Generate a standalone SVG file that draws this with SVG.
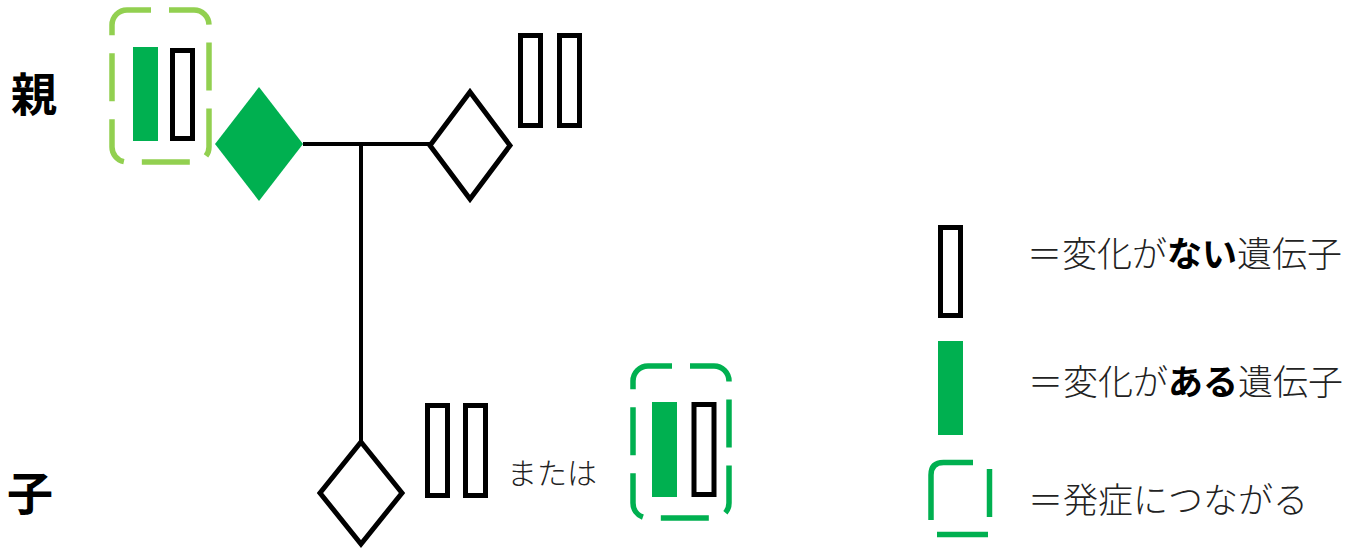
<svg xmlns="http://www.w3.org/2000/svg" width="1348" height="548" viewBox="0 0 1348 548">
<style>
.bg{fill:#fff}
.gene{fill:#fff;stroke:#000;stroke-width:5}
.mut{fill:#00B050}
.dia{fill:#fff;stroke:#000;stroke-width:5}
.diaf{fill:#00B050}
.link{stroke:#000;stroke-width:4;fill:none}
.box{fill:none;stroke-width:5.5;stroke-dasharray:48 18;stroke-dashoffset:24}
.lt{stroke:#92D050}
.dk{stroke:#00B050}
.big{font-family:"Noto Sans CJK JP","Noto Sans",sans-serif;font-weight:bold;font-size:46px;fill:#000}
.lbl{font-family:"Noto Sans CJK JP","Noto Sans",sans-serif;font-weight:300;fill:#222}
.lbl tspan.b{font-weight:bold;fill:#000}
</style>
<rect class="bg" x="0" y="0" width="1348" height="548"/>

<g id="connectors">
<line class="link" x1="303" y1="144" x2="431" y2="144"/>
<line class="link" x1="361" y1="144" x2="361" y2="443"/>
</g>

<g id="label-parent"><text class="big" x="11" y="111">親</text></g>
<g id="label-child"><text class="big" x="7" y="510">子</text></g>

<g id="parent-mother">
<rect class="box lt" x="112" y="10" width="97" height="152" rx="15"/>
<rect class="mut" x="133" y="47" width="25" height="94"/>
<rect class="gene" x="172.5" y="50.5" width="20" height="88"/>
<polygon class="diaf" points="259,87 303,144 259,201 215,144"/>
</g>

<g id="parent-father">
<polygon class="dia" points="470,92 510,145.5 470,199 430,145.5"/>
<rect class="gene" x="520.5" y="35.5" width="20" height="90"/>
<rect class="gene" x="559.5" y="35.5" width="20" height="90"/>
</g>

<g id="child">
<polygon class="dia" points="361,442 402,493 361,544 320,493"/>
<rect class="gene" x="427.5" y="405.5" width="20" height="90"/>
<rect class="gene" x="465.5" y="405.5" width="20" height="90"/>
<text class="lbl" x="507" y="484" font-size="30">または</text>
</g>

<g id="child-alt">
<rect class="box dk" x="633" y="366" width="96" height="152" rx="15"/>
<rect class="mut" x="652" y="402" width="25" height="95"/>
<rect class="gene" x="694" y="404.5" width="20" height="90"/>
</g>

<g id="legend-normal">
<rect class="gene" x="940.5" y="227.5" width="20" height="88"/>
<text class="lbl" x="1027" y="267" font-size="35">＝変化が<tspan class="b">ない</tspan>遺伝子</text>
</g>

<g id="legend-mutated">
<rect class="mut" x="938" y="341" width="25" height="94"/>
<text class="lbl" x="1028" y="395" font-size="35">＝変化が<tspan class="b">ある</tspan>遺伝子</text>
</g>

<g id="legend-onset">
<path d="M931,520 V475 Q931,462.5 943.5,462.5 H973" fill="none" stroke="#00B050" stroke-width="5.5"/>
<path d="M989.5,469 V517" fill="none" stroke="#00B050" stroke-width="5.5"/>
<path d="M937,534.5 H988" fill="none" stroke="#00B050" stroke-width="5.5"/>
<text class="lbl" x="1028" y="513" font-size="35">＝発症につながる</text>
</g>
</svg>
